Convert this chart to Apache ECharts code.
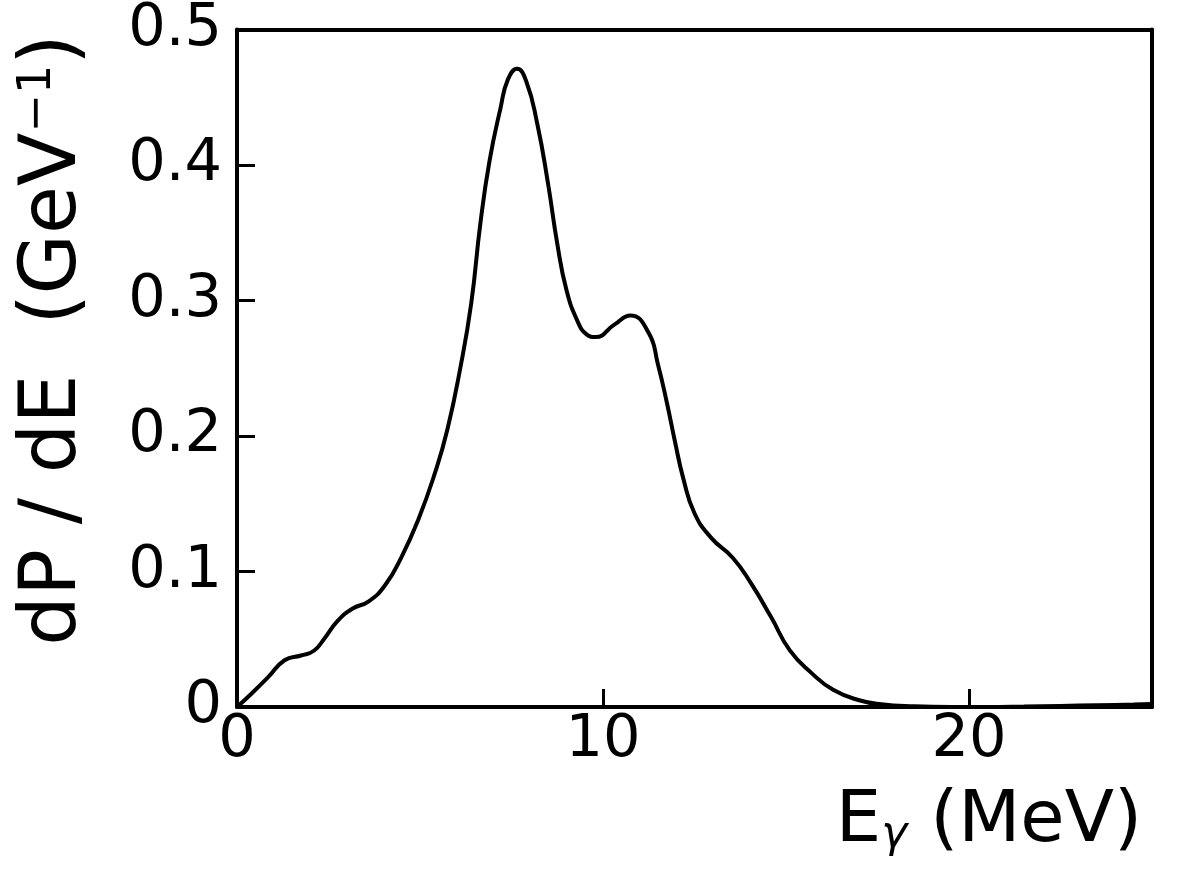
<!DOCTYPE html>
<html>
<head>
<meta charset="utf-8">
<script src="https://cdn.jsdelivr.net/npm/echarts@6/dist/echarts.min.js"></script>
<style>html,body{margin:0;padding:0;background:#fff;}#c{width:1181px;height:885px;}</style>
</head>
<body>
<div id="c"></div>
<script>
var energy = [0, 0.4, 0.85, 1.3, 1.75, 2.1, 2.4, 2.75, 3.15, 3.6, 4.05, 4.5, 4.95, 5.4, 5.75, 6.1, 6.4, 6.65, 6.9, 7.2, 7.4, 7.65, 7.9, 8.2, 8.5, 8.75, 9.0, 9.3, 9.55, 9.8, 10.3, 10.75, 11.25, 11.5, 11.75, 11.95, 12.2, 12.5, 12.95, 13.55, 14.05, 14.6, 15.1, 15.7, 16.3, 17.0, 17.6, 18.5, 19.5, 20.5, 21.5, 22.5, 23.5, 24.5, 25];
var dPdE = [0, 0.010, 0.022, 0.0345, 0.038, 0.0415, 0.051, 0.0635, 0.0725, 0.078, 0.090, 0.111, 0.138, 0.172, 0.205, 0.250, 0.298, 0.357, 0.403, 0.442, 0.463, 0.471, 0.462, 0.431, 0.386, 0.342, 0.308, 0.285, 0.275, 0.273, 0.282, 0.289, 0.276, 0.253, 0.224, 0.198, 0.168, 0.143, 0.125, 0.110, 0.091, 0.066, 0.042, 0.025, 0.0125, 0.005, 0.002, 0.0005, 0, 0, 0.0003, 0.0008, 0.0013, 0.0018, 0.0022];
var xTicks = [0, 10, 20];
var yTicks = [0, 0.1, 0.2, 0.3, 0.4, 0.5];

var FONT = 'DejaVu Sans';
var chart = echarts.init(document.getElementById('c'), null, {renderer: 'canvas'});
var pts = energy.map(function (e, i) { return [e, dPdE[i]]; });
var lineStyle = {color: '#000', width: 4};
chart.setOption({
  backgroundColor: '#fff',
  animation: false,
  grid: {left: 237, right: 29, top: 29, bottom: 178},
  xAxis: [{
    type: 'value', min: xTicks[0], max: 25, interval: xTicks[1] - xTicks[0],
    axisLine: {show: true, onZero: false, lineStyle: lineStyle},
    axisTick: {show: true, inside: true, length: 18, lineStyle: {color: '#000', width: 3}},
    splitLine: {show: false},
    axisLabel: {color: '#000', fontFamily: FONT, fontSize: 59, margin: 4, showMaxLabel: false,
      formatter: function (v) { return xTicks.indexOf(v) >= 0 ? String(v) : ''; }}
  }, {
    type: 'value', position: 'top', min: 0, max: 25,
    axisLine: {show: true, onZero: false, lineStyle: lineStyle},
    axisTick: {show: false}, axisLabel: {show: false}, splitLine: {show: false}
  }],
  yAxis: [{
    type: 'value', min: yTicks[0], max: yTicks[yTicks.length - 1], interval: 0.1,
    axisLine: {show: true, onZero: false, lineStyle: lineStyle},
    axisTick: {show: true, inside: true, length: 18, lineStyle: {color: '#000', width: 3}},
    splitLine: {show: false},
    axisLabel: {color: '#000', fontFamily: FONT, fontSize: 59, margin: 15,
      formatter: function (v) { return v === 0 ? '0' : v.toFixed(1); }}
  }, {
    type: 'value', position: 'right', min: 0, max: 0.5,
    axisLine: {show: true, onZero: false, lineStyle: lineStyle},
    axisTick: {show: false}, axisLabel: {show: false}, splitLine: {show: false}
  }],
  graphic: [{
    type: 'text', x: 1142, y: 822,
    style: {
      text: '{a|E}{s|γ}{a| (MeV)}',
      align: 'right', verticalAlign: 'middle',
      rich: {
        a: {fontFamily: FONT, fontSize: 72, fill: '#000'},
        s: {fontFamily: FONT, fontSize: 44, fontStyle: 'italic', fill: '#000', padding: [28, 0, 0, 0]}
      }
    }
  }, {
    type: 'text', x: 55, y: 340, rotation: Math.PI / 2,
    style: {
      text: '{a|dP / dE  (GeV}{s|−1}{a|)}',
      align: 'center', verticalAlign: 'middle',
      rich: {
        a: {fontFamily: FONT, fontSize: 78, fill: '#000'},
        s: {fontFamily: FONT, fontSize: 46, fill: '#000', padding: [0, 0, 34, 0]}
      }
    }
  }],
  series: [{
    type: 'line', data: pts, smooth: 0.5, symbol: 'none',
    lineStyle: {color: '#000', width: 4}, xAxisIndex: 0, yAxisIndex: 0
  }]
});
</script>
</body>
</html>
